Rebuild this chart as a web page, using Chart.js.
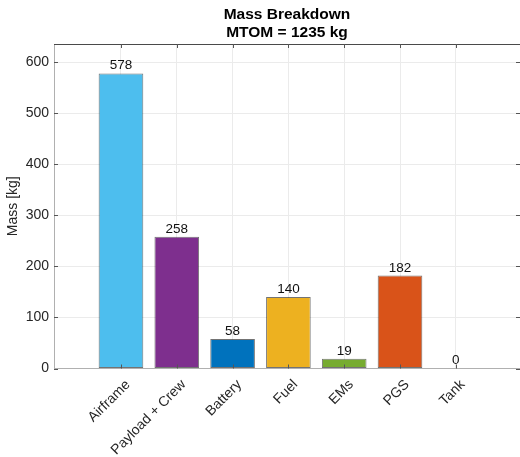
<!DOCTYPE html>
<html>
<head>
<meta charset="utf-8">
<script src="https://cdn.jsdelivr.net/npm/chart.js@4.4.1/dist/chart.umd.min.js"></script>
<style>
  html, body { margin: 0; padding: 0; background: #ffffff; }
  #wrap { width: 520px; height: 457px; }
</style>
</head>
<body>
<div id="wrap"><canvas id="c" width="520" height="457"></canvas></div>
<script>
// Mass breakdown per component (kg)
const categories = ['Airframe', 'Payload + Crew', 'Battery', 'Fuel', 'EMs', 'PGS', 'Tank'];
const masses = [578, 258, 58, 140, 19, 182, 0];
const barColors = ['#4DBEEE', '#7E2F8E', '#0072BD', '#EDB120', '#77AC30', '#D95319', '#A2142F'];
const yTicks = [0, 100, 200, 300, 400, 500, 600];
const titleLines = ['Mass Breakdown', 'MTOM = 1235 kg'];
const yLabel = 'Mass [kg]';

const FONT = '"Liberation Sans", Arial, Helvetica, sans-serif';
const TEXT = '#262626';

// Title drawn over the centre of the plot area
const titlePlugin = {
  id: 'twoLineTitle',
  afterDraw(chart) {
    const { ctx, chartArea } = chart;
    const cx = (chartArea.left + chartArea.right) / 2;
    ctx.save();
    ctx.fillStyle = '#000';
    ctx.font = 'bold 15.5px ' + FONT;
    ctx.textAlign = 'center';
    ctx.textBaseline = 'middle';
    ctx.fillText(titleLines[0], cx, 15);
    ctx.fillText(titleLines[1], cx, 33);
    ctx.restore();
  }
};

// Box outline and inward tick marks
const boxPlugin = {
  id: 'axesBox',
  afterDraw(chart) {
    const { ctx, chartArea: a, scales } = chart;
    ctx.save();
    ctx.lineWidth = 1;
    ctx.strokeStyle = '#4a4a4a';
    ctx.beginPath();
    ctx.moveTo(a.left, a.top + 0.5);
    ctx.lineTo(a.right, a.top + 0.5);
    ctx.stroke();
    const len = 4;
    ctx.strokeStyle = '#555';
    ctx.beginPath();
    scales.y.ticks.forEach(t => {
      const y = Math.round(scales.y.getPixelForValue(t.value)) + 0.5;
      ctx.moveTo(a.left, y); ctx.lineTo(a.left + len, y);
      ctx.moveTo(a.right, y); ctx.lineTo(a.right - len, y);
    });
    scales.x.ticks.forEach(t => {
      const x = Math.round(scales.x.getPixelForValue(t.value)) + 0.5;
      ctx.moveTo(x, a.bottom); ctx.lineTo(x, a.bottom - len);
      ctx.moveTo(x, a.top); ctx.lineTo(x, a.top + len);
    });
    ctx.stroke();
    ctx.restore();
  }
};

// Value labels above each bar
const valueLabels = {
  id: 'valueLabels',
  afterDatasetsDraw(chart) {
    const { ctx } = chart;
    const meta = chart.getDatasetMeta(0);
    ctx.save();
    ctx.fillStyle = '#111';
    ctx.font = '13.5px ' + FONT;
    ctx.textAlign = 'center';
    ctx.textBaseline = 'bottom';
    meta.data.forEach((bar, i) => {
      ctx.fillText(String(masses[i]), bar.x, bar.y - 1);
    });
    ctx.restore();
  }
};

new Chart(document.getElementById('c'), {
  type: 'bar',
  data: {
    datasets: [{
      data: masses.map((m, i) => ({ x: i, y: m })),
      backgroundColor: barColors,
      borderColor: 'rgba(0,0,0,0.55)',
      borderWidth: 1,
      borderSkipped: false,
      barPercentage: 0.8,
      categoryPercentage: 1.0
    }]
  },
  options: {
    responsive: false,
    animation: false,
    devicePixelRatio: 1,
    layout: { padding: { top: 44, right: 0, left: 0, bottom: 0 } },
    plugins: {
      legend: { display: false },
      tooltip: { enabled: false },
      title: { display: false }
    },
    scales: {
      x: {
        type: 'linear',
        offset: false,
        min: -1.2,
        max: 7.15,
        afterBuildTicks(scale) {
          scale.ticks = categories.map((_, i) => ({ value: i }));
        },
        afterFit(scale) {
          scale.height = 457 - 368.5;
          scale.paddingLeft = 0;
          scale.paddingRight = 0;
        },
        ticks: {
          autoSkip: false,
          minRotation: 45,
          maxRotation: 45,
          padding: 8,
          labelOffset: 7,
          color: TEXT,
          font: { family: FONT, size: 14 },
          callback: (v) => categories[v]
        },
        grid: { color: '#ebebeb', drawTicks: false, offset: false },
        border: { display: true, color: '#b0b0b0' }
      },
      y: {
        min: 0,
        max: 635.8,
        afterBuildTicks(scale) {
          scale.ticks = yTicks.map(v => ({ value: v }));
        },
        afterFit(scale) {
          scale.width = 54;
        },
        ticks: {
          padding: 5,
          color: TEXT,
          font: { family: FONT, size: 14 }
        },
        grid: { color: '#ebebeb', drawTicks: false },
        border: { display: true, color: '#b0b0b0' },
        title: {
          display: true,
          text: yLabel,
          color: TEXT,
          font: { family: FONT, size: 14 },
          padding: { top: 4.6, bottom: 0 }
        }
      }
    }
  },
  plugins: [titlePlugin, boxPlugin, valueLabels]
});
</script>
</body>
</html>
